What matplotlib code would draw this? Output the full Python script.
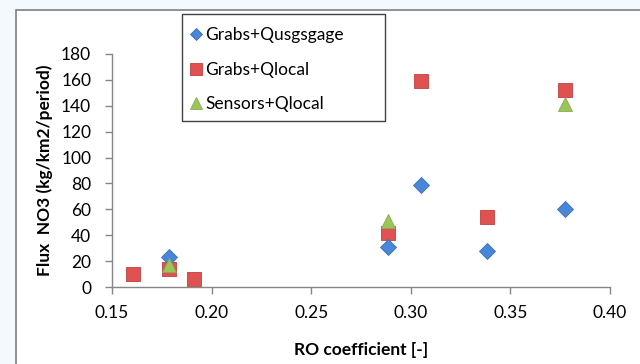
import matplotlib
matplotlib.use("Agg")
import matplotlib.pyplot as plt
from matplotlib.patches import Rectangle

plt.rcParams['font.family'] = ['Lato', 'DejaVu Sans']

# RO coefficient vs NO3 flux for the three estimation methods
ro_usgs = [0.1786, 0.2885, 0.3049, 0.3381, 0.3775]
flux_usgs = [23, 31, 79, 28, 60]

ro_local = [0.1605, 0.1786, 0.1910, 0.2885, 0.3049, 0.3381, 0.3775]
flux_local = [10, 14, 6, 42, 159, 54, 152]

ro_sensors = [0.1786, 0.2885, 0.3775]
flux_sensors = [17, 51, 141]

series_names = ['Grabs+Qusgsgage', 'Grabs+Qlocal', 'Sensors+Qlocal']
x_ticks = [0.15, 0.20, 0.25, 0.30, 0.35, 0.40]
y_ticks = [0, 20, 40, 60, 80, 100, 120, 140, 160, 180]

W, H = 640, 364
fig = plt.figure(figsize=(6.4, 3.64), dpi=100, facecolor='#f4f9fd')
# white chart area with a thin grey frame, kept behind the axes
fig.patches.append(Rectangle((16 / W, -0.05), 1.0, 1.05 - 10 / H,
                             transform=fig.transFigure, facecolor='white',
                             edgecolor='#7f7f7f', linewidth=1.2, zorder=-10))

ax = fig.add_axes([112 / W, 1 - 287 / H, 498 / W, 233 / H])
ax.set_facecolor('white')

ax.plot(ro_usgs, flux_usgs, linestyle='none', marker='D', markersize=8,
        color='#4a86d8', markeredgecolor='#3a6fb8', markeredgewidth=0.6,
        label=series_names[0], zorder=3)
ax.plot(ro_local, flux_local, linestyle='none', marker='s', markersize=10,
        color='#e05252', markeredgecolor='#c04040', markeredgewidth=0.6,
        label=series_names[1], zorder=2)
ax.plot(ro_sensors, flux_sensors, linestyle='none', marker='^', markersize=10,
        color='#9bc45a', markeredgecolor='#86ad48', markeredgewidth=0.6,
        label=series_names[2], zorder=4)

ax.set_xlim(0.15, 0.40)
ax.set_ylim(0, 180)
ax.set_xticks(x_ticks)
ax.set_xticklabels(['%.2f' % t for t in x_ticks])
ax.set_yticks(y_ticks)

for side in ['top', 'right']:
    ax.spines[side].set_visible(False)
for side in ['left', 'bottom']:
    ax.spines[side].set_color('#868686')
    ax.spines[side].set_linewidth(1.0)
ax.tick_params(axis='both', colors='#868686', labelcolor='black',
               labelsize=12.5, length=5, width=1.0, direction='out')
ax.tick_params(axis='x', pad=8)
ax.tick_params(axis='y', pad=10)

ax.set_xlabel('RO coefficient [-]', fontsize=12.5, fontweight='bold',
              labelpad=15)
ax.set_ylabel('Flux  NO3 (kg/km2/period)', fontsize=12.5, fontweight='bold',
              labelpad=6)

# legend box drawn on its own, entries placed inside it
fig.patches.append(Rectangle((182 / W, 1 - 121 / H), 203 / W, 107 / H,
                             transform=fig.transFigure, facecolor='none',
                             edgecolor='#404040', linewidth=1.0, zorder=5))
leg = ax.legend(loc='upper left', bbox_to_anchor=(189 / W, 1 - 27 / H),
                bbox_transform=fig.transFigure, fontsize=12.5,
                frameon=False, handletextpad=0.15, handlelength=0.8,
                borderpad=0, labelspacing=1.08, borderaxespad=0,
                markerscale=0.8)
leg.set_zorder(6)

fig.savefig('out.png', dpi=100, facecolor=fig.get_facecolor())
